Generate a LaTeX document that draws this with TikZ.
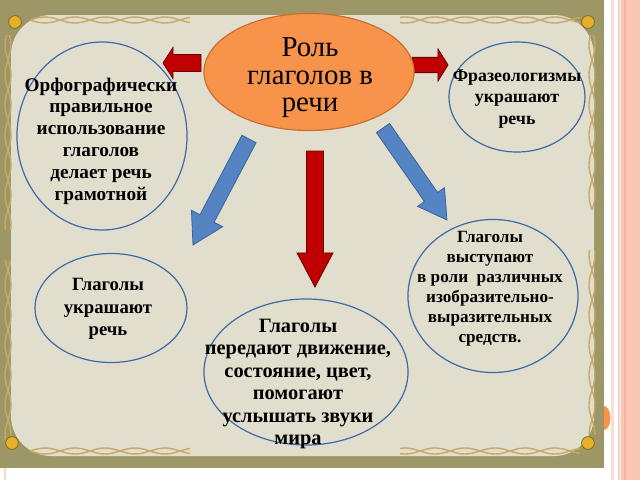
\documentclass[tikz,border=0pt]{standalone}
\usepackage{fontspec}
\setmainfont{Liberation Serif}
\usetikzlibrary{shapes.geometric,calc,positioning}

\definecolor{framecol}{HTML}{9D9666}
\definecolor{creamcol}{HTML}{E2DECD}
\definecolor{pinkcol}{HTML}{F8C6B4}
\definecolor{ringcol}{HTML}{3E68A6}
\definecolor{rolecol}{HTML}{F7934A}
\definecolor{roleline}{HTML}{C8702E}
\definecolor{redarr}{HTML}{C00000}
\definecolor{bluearr}{HTML}{5484C4}
\definecolor{bluearrline}{HTML}{3C639A}
\definecolor{wheatcol}{HTML}{C7A968}
\definecolor{beadcol}{HTML}{E3B12C}

% block arrow: style, from, to, half body, half head, head length
\newcommand{\blockarrow}[6]{%
  \coordinate (hb) at ($(#3)!#6!(#2)$);
  \draw[#1] ($(#2)!#4!90:(#3)$) -- ($(hb)!#4!90:(#3)$) -- ($(hb)!#5!90:(#3)$) -- (#3)
    -- ($(hb)!#5!-90:(#3)$) -- ($(hb)!#4!-90:(#3)$) -- ($(#2)!#4!-90:(#3)$) -- cycle;
}

\tikzset{
  bub/.style={ellipse, draw=ringcol, line width=0.3mm, inner sep=0pt},
  txt/.style={align=center, inner sep=0pt, font=\bfseries\fontsize{13.7}{15.5}\selectfont},
  redblock/.style={fill=redarr, draw=redarr!55!black, line width=0.2mm},
  blueblock/.style={fill=bluearr, draw=bluearrline, line width=0.2mm},
  wheat/.style={draw=wheatcol, line width=0.35mm},
  bead/.style={fill=beadcol, draw=beadcol!60!black, line width=0.2mm},
}

\begin{document}
\begin{tikzpicture}[x=0.025cm, y=-0.025cm]

		\useasboundingbox (0,0) rectangle (640,480);
		\fill[white] (0,0) rectangle (640,480);

		% Slide stripes
		\fill[pinkcol!60] (611,0) rectangle (614,480);
		\fill[pinkcol] (618,0) rectangle (640,480);
		\draw[pinkcol!50, line width=0.3mm] (620,0) -- (620,480);
		\draw[pinkcol!90!red, line width=0.3mm] (625,0) -- (625,480);
		\fill[pinkcol!70] (4,468) rectangle (6,480);
		\fill[rolecol] (604,418) ellipse (1.6mm and 3mm);

		% Frame
		\fill[framecol] (0,0) rectangle (604,468);
		\fill[creamcol, rounded corners=10mm] (11,15) rectangle (594,456);

		% Wheat
		\foreach \xa/\xb/\yy in {30/190/20, 400/580/20, 30/190/451, 400/580/451}
			\foreach \ph in {0,180}
				\draw[wheat] plot[smooth, domain=\xa:\xb, samples=40] (\x,{\yy+3*sin(6*\x+\ph)});
		\foreach \xx/\ya/\yb in {8/35/230, 8/260/440, 592/35/210, 592/250/435}
			\foreach \ph in {0,180}
				\draw[wheat] plot[smooth, domain=\ya:\yb, samples=40] ({\xx+3*sin(6*\x+\ph)},\x);
		\foreach \bx/\by in {15/22, 588/22, 12/443, 588/443}
			\draw[bead] (\bx,\by) circle (1.6mm);

		% Arrows
		\coordinate (rl0) at (201,63);
		\coordinate (rl1) at (163,63);
		\coordinate (rr0) at (412,65);
		\coordinate (rr1) at (448,65);
		\coordinate (rd0) at (315,151);
		\coordinate (rd1) at (315,287);
		\coordinate (bl0) at (249,139);
		\coordinate (bl1) at (193,245);
		\coordinate (br0) at (383,128);
		\coordinate (br1) at (447,220);
		\blockarrow{redblock}{rl0}{rl1}{2.1mm}{3.9mm}{2.5mm}
		\blockarrow{redblock}{rr0}{rr1}{1.9mm}{4mm}{2.5mm}
		\blockarrow{redblock}{rd0}{rd1}{2.1mm}{4.5mm}{8.5mm}
		\blockarrow{blueblock}{bl0}{bl1}{2mm}{4.4mm}{7.5mm}
		\blockarrow{blueblock}{br0}{br1}{2mm}{4.1mm}{7mm}

		% Ellipses
		\node[bub, fill=rolecol, draw=roleline, minimum width=52.5mm, minimum height=29.25mm] (role) at (309,72) {};
		\node[bub, minimum width=42.5mm, minimum height=47mm] (orth) at (102,136) {};
		\node[bub, minimum width=34mm, minimum height=27.5mm] (phr) at (517,97) {};
		\node[bub, minimum width=38mm, minimum height=27.25mm] (deco) at (111,308) {};
		\node[bub, minimum width=51mm, minimum height=36.5mm] (move) at (306,372) {};
		\node[bub, minimum width=42.5mm, minimum height=38.25mm] (expr) at (493,296) {};

		% Texts
		\node[align=center, inner sep=0pt, font=\fontsize{20.5}{19.6}\selectfont] (roletxt) at (310,78) {Роль\\глаголов в\\речи};
		\node[txt] (orthtxt) at (101,141) {Орфографически\\правильное\\использование\\глаголов\\делает речь\\грамотной};
		\node[txt, font=\bfseries\fontsize{12.7}{15.2}\selectfont] (phrtxt) at (517,99) {Фразеологизмы\\украшают\\речь};
		\node[txt, font=\bfseries\fontsize{13.3}{16}\selectfont] (decotxt) at (108,309) {Глаголы\\украшают\\речь};
		\node[txt, font=\bfseries\fontsize{14.5}{16}\selectfont] (movetxt) at (298,384) {Глаголы\\передают движение,\\состояние, цвет,\\помогают\\услышать звуки\\мира};
		\node[txt, font=\bfseries\fontsize{12.2}{14.2}\selectfont] (exprtxt) at (490,289) {Глаголы\\выступают\\в роли~ различных\\изобразительно-\\выразительных\\средств.};

	\end{tikzpicture}
\end{document}
